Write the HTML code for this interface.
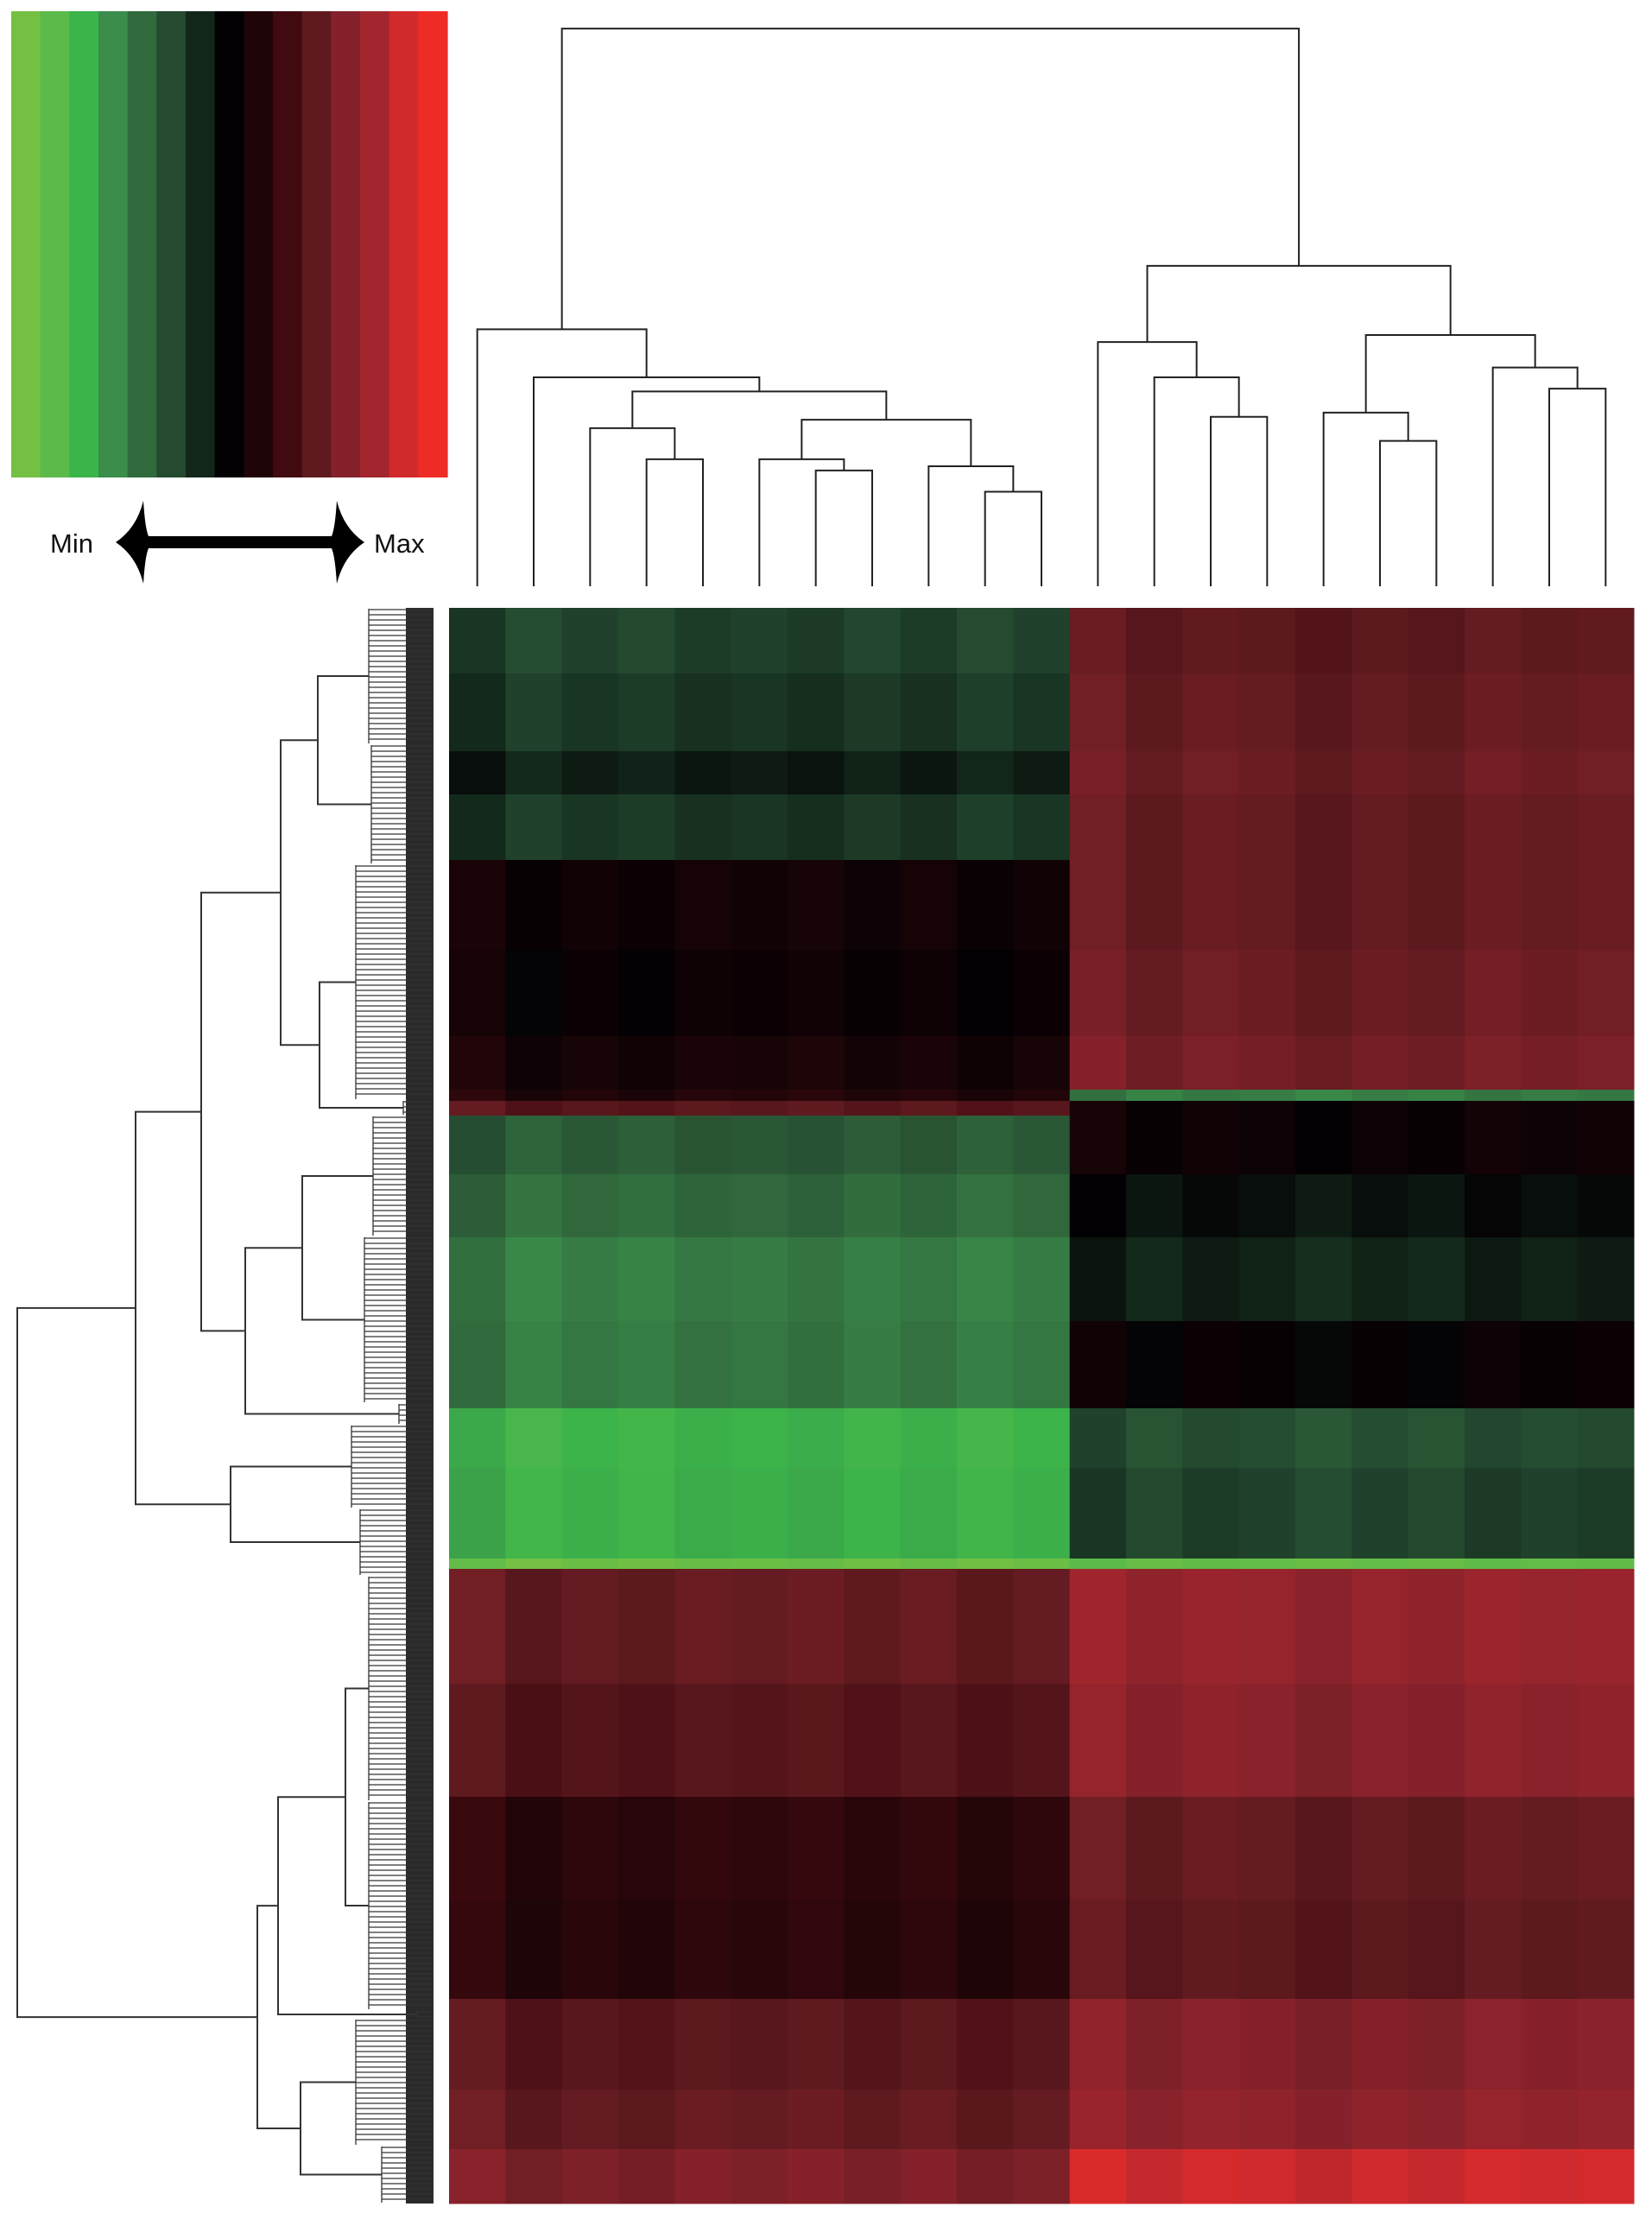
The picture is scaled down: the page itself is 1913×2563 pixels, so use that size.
<!DOCTYPE html>
<html><head><meta charset="utf-8"><style>
html,body{margin:0;padding:0;background:#fff;}
svg{display:block;}
text{font-family:"Liberation Sans",sans-serif;}
</style></head><body>
<svg id="chart" width="1913" height="2563" viewBox="0 0 1913 2563" xmlns="http://www.w3.org/2000/svg">
<g id="legend"></g>
<g id="coltree"></g>
<g id="rowtree"></g>
<g id="heat"></g>
</svg>
<script>
// ---- data ----
const palette = ["#73c043","#5cba4a","#3bb44a","#3a8d4a","#316a3d","#244a30","#12271a","#030003","#200508","#410a10","#5e1a1f","#84212a","#a3262e","#d12a2d","#ee2c25"];
const bandRows  = [76,90,50,76,104,100,62,13,17,68,73,97,101,69,105,12,133,131,119,115,105,69,63];
const leftVals  = [-0.25,-0.2,-0.1,-0.2,0.07,0.04,0.1,0.15,0.4,-0.35,-0.42,-0.5,-0.48,-0.72,-0.7,-0.95,0.45,0.38,0.2,0.18,0.4,0.45,0.55];
const rightVals = [0.42,0.45,0.48,0.45,0.45,0.48,0.52,-0.5,0.05,0.05,-0.05,-0.12,0.02,-0.3,-0.25,-0.9,0.65,0.6,0.45,0.42,0.58,0.62,0.85];
const colGroups = [0,0,0,0,0,0,0,0,0,0,0,1,1,1,1,1,1,1,1,1,1];
const colOffsets = [0.05,-0.05,0,-0.03,0.02,0,0.03,-0.02,0.02,-0.04,0,0.05,-0.03,0.02,0,-0.05,0,-0.03,0.03,0,0.02];
// column tree: heights in merge-distance units; leaves are column indices
const colTree = {h:395,c:[
  {h:182,c:[0,{h:148,c:[1,{h:138,c:[
     {h:112,c:[2,{h:90,c:[3,4]}]},
     {h:118,c:[{h:90,c:[5,{h:82,c:[6,7]}]},{h:85,c:[8,{h:67,c:[9,10]}]}]}]}]}]},
  {h:227,c:[
     {h:173,c:[11,{h:148,c:[12,{h:120,c:[13,14]}]}]},
     {h:178,c:[{h:123,c:[15,{h:103,c:[16,17]}]},{h:155,c:[18,{h:140,c:[19,20]}]}]}]}]};
// row tree: leaves are clusters {n: rows, h: height}
const rowTree = {h:482,c:[
  {h:345,c:[
    {h:269,c:[
      {h:177,c:[{h:134,c:[{n:158,h:75},{n:139,h:72}]},{h:132,c:[{n:273,h:90},{n:18,h:35}]}]},
      {h:218,c:[{h:152,c:[{n:140,h:70},{n:193,h:80}]},{n:25,h:40}]}]},
    {h:235,c:[{n:97,h:95},{n:78,h:85}]}]},
  {h:204,c:[
    {h:180,c:[{h:102,c:[{n:261,h:75},{n:242,h:75}]},{n:10,h:20}]},
    {h:154,c:[{n:147,h:90},{n:67,h:60}]}]}]};

// ---- layout ----
const NS="http://www.w3.org/2000/svg";
const HX0=520,HX1=1892,HY0=704,HY1=2552;
const nCols=colGroups.length;
const totalRows=bandRows.reduce((a,b)=>a+b,0);
const xScale=i=>HX0+i*(HX1-HX0)/nCols;
const yScale=r=>HY0+r*(HY1-HY0)/totalRows;
function mk(tag,attrs,parent){const e=document.createElementNS(NS,tag);for(const k in attrs)e.setAttribute(k,attrs[k]);parent.appendChild(e);return e;}
function hex(c){return [1,3,5].map(i=>parseInt(c.substr(i,2),16));}
function color(v){v=Math.max(-1,Math.min(1,v));const t=(v+1)/2*(palette.length-1);const i=Math.min(palette.length-2,Math.floor(t));const f=t-i;const a=hex(palette[i]),b=hex(palette[i+1]);return "rgb("+a.map((x,k)=>Math.round(x+(b[k]-x)*f)).join(",")+")";}

// legend
const lg=document.getElementById('legend');
const LX0=13,LX1=518,LY0=13,LY1=553;
palette.forEach((c,i)=>{const w=(LX1-LX0)/palette.length;
  const r=mk('rect',{x:LX0+i*w,y:LY0,width:w+0.6,height:LY1-LY0,fill:c},lg);
  
  });
const t1=mk('text',{x:58,y:640,'font-size':31,fill:'#111'},lg);t1.textContent='Min';

const t2=mk('text',{x:433,y:640,'font-size':31,fill:'#111'},lg);t2.textContent='Max';

const ar=mk('path',{d:'M134 628 Q158 612 166 580 Q168 612 172 621 L384 621 Q388 612 390 580 Q398 612 422 628 Q398 644 390 676 Q388 644 384 635 L172 635 Q168 644 166 676 Q158 644 134 628 Z',fill:'#000'},lg);


// heatmap
const hm=document.getElementById('heat');
let r0=0;
bandRows.forEach((n,b)=>{
  for(let c=0;c<nCols;c++){
    const v=(colGroups[c]?rightVals[b]:leftVals[b])+colOffsets[c];
    const rc=mk('rect',{x:xScale(c),y:yScale(r0),width:xScale(c+1)-xScale(c)+0.5,height:yScale(r0+n)-yScale(r0)+0.5,fill:color(v)},hm);
    
    
  }
  r0+=n;
});

// column dendrogram
const ct=document.getElementById('coltree');
const CY0=679,CK=1.635;
const colY=h=>CY0-h*CK;
function drawCol(node){
  if(typeof node==='number'){return {x:(xScale(node)+xScale(node+1))/2,y:CY0};}
  const a=drawCol(node.c[0]),b=drawCol(node.c[1]);const y=colY(node.h);
  const p=mk('path',{d:`M${a.x} ${a.y} V${y} H${b.x} V${b.y}`,fill:'none',stroke:'#222','stroke-width':2},ct);
  
  
  return {x:(a.x+b.x)/2,y:y};
}
drawCol(colTree);

// row dendrogram
const rt=document.getElementById('rowtree');
const TIPX=502;
const rowX=h=>TIPX-h;
let rowCursor=0;
const dense=mk('rect',{x:470,y:HY0,width:TIPX-470,height:HY1-HY0,fill:'#2a2a2a'},rt);

function drawRow(node){
  if(node.n!==undefined){
    const y0=yScale(rowCursor),y1=yScale(rowCursor+node.n);rowCursor+=node.n;
    const x=rowX(node.h);let d=`M${x} ${y0+1} V${y1-1}`;
    for(let y=y0+2;y<y1-1;y+=6){d+=` M${x} ${y} H${TIPX}`;}
    const p=mk('path',{d:d,fill:'none',stroke:'#333','stroke-width':1.3},rt);
    
    
    return {x:x,y:(y0+y1)/2};
  }
  const a=drawRow(node.c[0]),b=drawRow(node.c[1]);const x=rowX(node.h);
  const p=mk('path',{d:`M${a.x} ${a.y} H${x} V${b.y} H${b.x}`,fill:'none',stroke:'#333','stroke-width':2},rt);
  
  
  return {x:x,y:(a.y+b.y)/2};
}
drawRow(rowTree);
</script>
</body></html>
